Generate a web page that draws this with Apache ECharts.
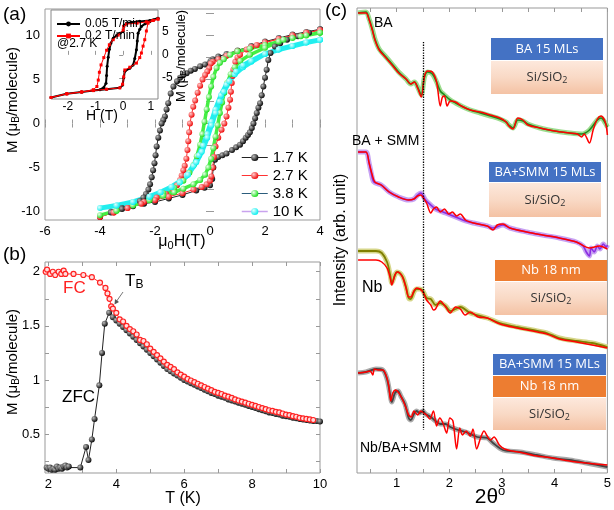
<!DOCTYPE html>
<html><head><meta charset="utf-8">
<script src="https://cdn.jsdelivr.net/npm/echarts@6/dist/echarts.min.js"></script>
<style>html,body{margin:0;padding:0;background:#fff}#c{width:614px;height:510px}</style>
</head><body><div id="c"></div>
<script>
// ---------------- DATA ----------------
// (a) main hysteresis loops  [H (T), M (muB/molecule)]
const loop17K = [[4,10.7],[3.5,10.4],[3,10.1],[2.5,9.7],[2,9.3],[1.5,8.8],[1,8.3],[0.6,7.9],[0.3,7.6],[0.1,7.3],[0.02,7.1],[-0.03,6.8],[-0.18,6.7],[-0.36,6.5],[-0.55,6.2],[-0.7,6.0],[-0.85,5.7],[-0.97,5.5],[-1.09,5.2],[-1.2,4.8],[-1.33,4.2],[-1.43,3.4],[-1.52,2.3],[-1.58,1.6],[-1.64,0.8],[-1.7,0.4],[-1.76,0.0],[-1.82,-0.8],[-1.88,-1.6],[-1.94,-2.6],[-1.98,-3.6],[-2.02,-4.5],[-2.07,-5.3],[-2.12,-6.1],[-2.18,-6.9],[-2.24,-7.5],[-2.33,-8.0],[-2.42,-8.4],[-2.55,-8.8],[-2.8,-9.2],[-3.2,-9.6],[-3.6,-10.0],[-4,-10.6],
  [-3.6,-10.1],[-3.2,-9.7],[-2.8,-9.4],[-2.4,-9.1],[-2,-8.9],[-1.5,-8.5],[-1,-8.1],[-0.5,-7.6],[-0.2,-7.3],[0,-7.0],[0.08,-6.3],[0.12,-5.0],[0.18,-4.1],[0.3,-3.8],[0.45,-3.6],[0.6,-3.4],[0.8,-3.0],[0.95,-2.7],[1.09,-2.4],[1.2,-2.0],[1.3,-1.6],[1.38,-1.3],[1.45,-1.0],[1.52,-0.5],[1.58,0],[1.64,0.6],[1.7,1.2],[1.76,1.8],[1.82,2.3],[1.88,3.2],[1.94,4.2],[2.0,5.2],[2.06,6.1],[2.12,7.2],[2.2,8.0],[2.36,8.75],[2.55,9.1],[2.8,9.5],[3.2,9.9],[3.6,10.3],[4,10.7]];
const loop27K = [[4,10.6],[3.5,10.3],[3,10.0],[2.5,9.6],[2,9.2],[1.5,8.7],[1,8.2],[0.6,7.7],[0.3,7.3],[0.1,7.0],[0.03,6.8],[-0.03,6.3],[-0.1,5.9],[-0.18,5.5],[-0.27,5.0],[-0.36,4.3],[-0.45,3.5],[-0.54,2.6],[-0.61,1.9],[-0.67,1.0],[-0.73,0.0],[-0.76,-1.0],[-0.79,-2.0],[-0.82,-3.0],[-0.86,-4.0],[-0.92,-4.8],[-0.97,-5.3],[-1.03,-5.9],[-1.09,-6.4],[-1.2,-7.0],[-1.33,-7.5],[-1.6,-8.0],[-1.94,-8.4],[-2.4,-8.9],[-3,-9.6],[-3.5,-10.1],[-4,-10.6],
  [-3.5,-10.1],[-3,-9.6],[-2.5,-9.1],[-2,-8.7],[-1.5,-8.3],[-1,-7.9],[-0.6,-7.5],[-0.3,-7.2],[-0.12,-6.9],[0,-6.5],[0.05,-6.0],[0.1,-5.0],[0.14,-3.8],[0.2,-2.6],[0.3,-1.6],[0.42,-0.7],[0.52,0.0],[0.6,0.8],[0.67,1.8],[0.73,2.7],[0.76,3.6],[0.79,4.6],[0.82,5.4],[0.85,6.1],[0.92,7.0],[1.0,7.5],[1.09,7.8],[1.33,8.4],[1.7,8.9],[2,9.2],[2.5,9.6],[3,10.0],[3.5,10.3],[4,10.6]];
const loop38K = [[4,10.3],[3.5,10.0],[3,9.7],[2.5,9.3],[2,8.9],[1.45,8.5],[1,8.2],[0.73,7.8],[0.5,7.3],[0.36,6.9],[0.24,6.3],[0.12,5.3],[0.04,4.2],[-0.04,3.0],[-0.12,1.6],[-0.2,0.2],[-0.28,-1.2],[-0.36,-2.4],[-0.48,-3.7],[-0.6,-4.7],[-0.75,-5.6],[-0.97,-6.5],[-1.3,-7.3],[-1.7,-7.9],[-2.2,-8.5],[-2.8,-9.2],[-3.4,-9.9],[-4,-10.4],
  [-3.4,-9.9],[-2.8,-9.3],[-2.2,-8.7],[-1.7,-8.2],[-1.3,-7.8],[-0.97,-7.4],[-0.6,-6.9],[-0.36,-6.4],[-0.18,-5.8],[-0.06,-5.0],[0.04,-4.0],[0.12,-2.8],[0.2,-1.5],[0.28,-0.2],[0.36,1.2],[0.44,2.4],[0.52,3.5],[0.62,4.6],[0.75,5.6],[0.9,6.4],[1.1,7.1],[1.45,7.8],[2,8.6],[2.67,9.5],[3.3,9.9],[4,10.3]];
const loop10K = [[4,9.5],[3.5,9.2],[3,8.8],[2.5,8.4],[2,7.9],[1.5,7.0],[1.2,6.4],[0.9,5.6],[0.6,4.4],[0.4,3.2],[0.2,1.6],[0.05,0.2],[-0.1,-1.2],[-0.25,-2.5],[-0.4,-3.6],[-0.6,-4.8],[-0.85,-5.9],[-1.1,-6.6],[-1.4,-7.2],[-1.8,-7.8],[-2.2,-8.3],[-2.8,-8.9],[-3.4,-9.3],[-4,-9.6],
  [-3.4,-9.3],[-2.8,-8.9],[-2.2,-8.3],[-1.8,-7.8],[-1.4,-7.2],[-1.1,-6.7],[-0.8,-5.8],[-0.5,-4.4],[-0.3,-3.2],[-0.1,-1.6],[0.05,-0.2],[0.2,1.2],[0.35,2.5],[0.5,3.6],[0.7,4.8],[0.95,5.9],[1.2,6.6],[1.5,7.1],[2,7.9],[2.5,8.4],[3,8.8],[3.5,9.2],[4,9.5]];
const tempNames = ['1.7 K','2.7 K','3.8 K','10 K'];
const aXTicks = [-6,-4,-2,0,2,4];
const aYTicks = [-10,-5,0,5,10];

// (a) inset: 2.7 K at two sweep rates
const insetSlow = [[1.26,8.0],[0.96,7.5],[0.6,7.3],[0.3,7.1],[0.12,6.9],[0.03,6.4],[0,5.1],[-0.12,4.7],[-0.24,4.2],[-0.36,3.6],[-0.44,2.6],[-0.5,1.2],[-0.54,-0.5],[-0.58,-2.5],[-0.6,-4.5],[-0.62,-6.2],[-0.7,-7.1],[-0.84,-7.6],[-1.08,-7.8],[-1.5,-8.1],[-2.04,-8.5],[-2.61,-9.3],
  [-2.04,-8.5],[-1.5,-8.1],[-1.08,-7.8],[-0.6,-7.5],[-0.12,-7.2],[-0.02,-6.6],[0.02,-5.0],[0.06,-3.6],[0.24,-2.9],[0.36,-2.2],[0.42,-0.8],[0.48,1.1],[0.51,3.0],[0.54,4.7],[0.6,5.6],[0.66,6.2],[0.8,6.8],[0.96,7.2],[1.1,7.6],[1.26,8.0]];
const insetFast = [[1.26,7.8],[1.08,7.5],[0.84,7.2],[0.5,6.9],[0.12,6.7],[0.02,6.2],[0,5.4],[-0.18,4.3],[-0.36,3.3],[-0.5,2.2],[-0.6,1.0],[-0.7,-0.6],[-0.8,-2.2],[-0.86,-3.8],[-0.9,-5.5],[-0.95,-6.9],[-1.08,-7.6],[-1.5,-8.1],[-2.04,-8.5],[-2.61,-9.3],
  [-2.04,-8.5],[-1.5,-8.1],[-1.08,-7.8],[-0.6,-7.5],[-0.12,-7.2],[-0.02,-6.4],[0.02,-4.8],[0.06,-3.3],[0.24,-2.7],[0.48,-1.8],[0.6,-0.6],[0.66,0.4],[0.72,1.9],[0.78,3.3],[0.84,5.2],[0.9,6.9],[1.08,7.5],[1.26,7.8]];
const insetNames = ['0.05 T/min','0.2 T/min'];

// (b) ZFC / FC  [T (K), M]
const zfc = [[1.95,0.19],[2.0,0.18],[2.05,0.19],[2.1,0.17],[2.15,0.18],[2.2,0.17],[2.25,0.2],[2.3,0.18],[2.35,0.19],[2.4,0.18],[2.45,0.2],[2.5,0.21],[2.55,0.19],[2.6,0.2],[2.94,0.19],[3.11,0.38],[3.18,0.26],[3.28,0.45],[3.36,0.64],[3.5,0.95],[3.58,1.25],[3.66,1.52],[3.79,1.62],[3.9,1.58],[4.0,1.55],[4.1,1.52],[4.2,1.49],[4.3,1.46],[4.4,1.43],[4.5,1.40],[4.6,1.37],[4.7,1.34],[4.8,1.31],[4.9,1.28],[5.0,1.25],[5.1,1.22],[5.2,1.19],[5.3,1.16],[5.4,1.13],[5.5,1.10],[5.6,1.08],[5.7,1.06],[5.8,1.04],[5.9,1.02],[6.0,1.00],[6.1,0.985],[6.2,0.97],[6.3,0.955],[6.4,0.94],[6.5,0.925],[6.6,0.91],[6.7,0.895],[6.8,0.88],[6.9,0.87],[7.0,0.855],[7.1,0.845],[7.2,0.835],[7.3,0.82],[7.4,0.81],[7.5,0.80],[7.6,0.79],[7.7,0.78],[7.8,0.77],[7.9,0.76],[8.0,0.75],[8.1,0.74],[8.2,0.73],[8.3,0.72],[8.4,0.71],[8.5,0.70],[8.6,0.695],[8.7,0.685],[8.8,0.68],[8.9,0.67],[9.0,0.665],[9.1,0.66],[9.2,0.65],[9.3,0.645],[9.4,0.64],[9.5,0.635],[9.6,0.63],[9.7,0.625],[9.8,0.62],[9.9,0.62],[10.0,0.615]];
const fc = [[1.92,2.0],[1.96,2.02],[2.05,1.98],[2.13,2.0],[2.2,1.97],[2.3,2.0],[2.38,1.98],[2.45,2.01],[2.5,1.98],[2.74,1.98],[3.03,1.97],[3.28,1.95],[3.52,1.9],[3.68,1.85],[3.74,1.8],[3.8,1.75],[3.85,1.68],[3.9,1.66],[4.0,1.62],[4.1,1.56],[4.2,1.54],[4.3,1.50],[4.4,1.47],[4.5,1.45],[4.6,1.42],[4.7,1.37],[4.8,1.36],[4.9,1.33],[5.0,1.29],[5.1,1.26],[5.2,1.23],[5.3,1.20],[5.4,1.17],[5.5,1.14],[5.6,1.12],[5.7,1.10],[5.8,1.07],[5.9,1.05],[6.0,1.03],[6.1,1.01],[6.2,0.995],[6.3,0.98],[6.4,0.965],[6.5,0.95],[6.6,0.935],[6.7,0.92],[6.8,0.905],[6.9,0.89],[7.0,0.88],[7.1,0.87],[7.2,0.855],[7.3,0.845],[7.4,0.835],[7.5,0.82],[7.6,0.81],[7.7,0.80],[7.8,0.79],[7.9,0.78],[8.0,0.77],[8.1,0.76],[8.2,0.75],[8.3,0.74],[8.4,0.73],[8.5,0.72],[8.6,0.715],[8.7,0.705],[8.8,0.70],[8.9,0.69],[9.0,0.68],[9.1,0.675],[9.2,0.665],[9.3,0.66],[9.4,0.65],[9.5,0.645],[9.6,0.64],[9.7,0.635],[9.8,0.63]];
const bXLabels = [2,4,6,8,10];
const bYLabels = [0.5,1.0,1.5,2.0];

// (c) XRR, stacked [2theta (deg), intensity (arb.)]
const baMeas = [[0.27,460],[0.42,461],[0.48,454],[0.54,444],[0.59,434],[0.67,424],[0.8,416],[0.93,408],[1.04,401],[1.18,394],[1.27,389],[1.34,391],[1.4,386],[1.47,378],[1.53,396],[1.59,401],[1.68,399],[1.76,391],[1.83,382],[1.91,378],[2.02,373],[2.12,370],[2.23,367],[2.4,363],[2.59,360],[2.78,357],[2.96,354],[3.08,351],[3.13,348],[3.21,345],[3.3,353],[3.4,352],[3.49,349],[3.72,345],[4.0,342],[4.28,340],[4.51,339],[4.66,343],[4.81,353],[4.88,355],[4.96,350],[5.0,346]];
const baFit = [[0.27,460],[0.42,460],[0.48,453],[0.54,443],[0.59,433],[0.67,423],[0.8,415],[0.93,407],[1.04,400],[1.18,394],[1.27,389],[1.34,391],[1.4,385],[1.47,376],[1.53,397],[1.59,402],[1.68,401],[1.76,391],[1.83,367],[1.87,376],[1.91,377],[1.96,367],[2.02,372],[2.12,371],[2.23,367],[2.4,363],[2.59,361],[2.78,358],[2.96,355],[3.08,351],[3.13,347],[3.21,344],[3.3,355],[3.4,353],[3.49,348],[3.72,345],[4.0,342],[4.28,340],[4.43,339],[4.51,336],[4.56,339],[4.66,330],[4.73,343],[4.81,354],[4.88,357],[4.96,351],[5.0,338]];
const bsMeas = [[0.27,321],[0.42,321],[0.48,310],[0.52,300],[0.57,291],[0.71,288],[0.86,281],[1.04,276],[1.23,273],[1.33,274],[1.4,278],[1.46,280],[1.55,273],[1.65,268],[1.74,264],[1.93,260],[2.12,256],[2.31,252],[2.46,250],[2.72,247],[2.83,245],[3.02,248],[3.15,245],[3.47,241],[3.77,238],[4.09,235],[4.41,231],[4.54,227],[4.6,221],[4.66,217],[4.69,225],[4.75,221],[4.81,227],[4.86,224],[4.92,229],[4.98,226],[5.0,228]];
const bsFit = [[0.27,321],[0.42,321],[0.48,310],[0.54,298],[0.59,291],[0.71,288],[0.86,281],[1.04,276],[1.23,273],[1.33,274],[1.4,277],[1.46,278],[1.52,274],[1.57,270],[1.65,260],[1.7,264],[1.76,266],[1.83,261],[1.91,264],[1.99,259],[2.06,261],[2.14,257],[2.21,259],[2.31,253],[2.46,250],[2.72,247],[2.83,243],[2.91,248],[3.02,249],[3.15,245],[3.47,241],[3.77,238],[4.09,235],[4.41,231],[4.66,225],[4.85,227],[5.0,224]];
const nbMeas = [[0.27,222],[0.61,222],[0.72,220],[0.82,211],[0.88,198],[0.91,190],[0.97,198],[1.01,201],[1.06,200],[1.12,196],[1.18,186],[1.23,175],[1.27,174],[1.33,181],[1.38,184],[1.44,184],[1.5,182],[1.57,175],[1.65,174],[1.74,168],[1.83,170],[1.93,167],[2.02,162],[2.12,164],[2.21,166],[2.4,160],[2.72,155],[2.96,150],[3.28,146],[3.58,143],[3.85,140],[4.09,135],[4.41,132],[4.71,130],[5.0,126]];
const nbFit = [[0.27,213],[0.61,213],[0.72,211],[0.82,205],[0.88,195],[0.91,188],[0.97,198],[1.01,201],[1.06,200],[1.12,195],[1.18,185],[1.23,176],[1.27,176],[1.33,182],[1.38,185],[1.44,184],[1.5,181],[1.57,173],[1.65,168],[1.7,163],[1.74,164],[1.83,172],[1.93,166],[2.02,160],[2.12,166],[2.21,164],[2.3,158],[2.4,161],[2.55,156],[2.72,155],[2.96,149],[3.28,145],[3.58,142],[3.85,139],[4.09,134],[4.41,131],[4.71,128],[5.0,125]];
const nbbsMeas = [[0.27,100],[0.42,101],[0.61,104],[0.74,103],[0.82,94],[0.88,78],[0.91,71],[0.97,80],[1.03,82],[1.08,77],[1.16,69],[1.23,55],[1.27,53],[1.33,59],[1.38,62],[1.44,60],[1.5,62],[1.55,59],[1.65,56],[1.74,52],[1.83,49],[1.93,49],[2.02,46],[2.17,43],[2.31,41],[2.53,36],[2.72,35],[2.83,30],[3.02,23],[3.34,21],[3.66,18],[3.96,15],[4.28,13],[4.6,10],[5.0,6]];
const nbbsFit = [[0.27,100],[0.42,101],[0.5,102],[0.55,98],[0.58,104],[0.65,103],[0.74,103],[0.8,98],[0.85,88],[0.89,72],[0.93,80],[0.98,83],[1.03,81],[1.1,75],[1.18,65],[1.23,58],[1.28,56],[1.33,62],[1.4,58],[1.46,62],[1.52,60],[1.57,58],[1.63,54],[1.7,62],[1.76,47],[1.82,55],[1.88,50],[1.95,40],[2.01,55],[2.07,52],[2.14,24],[2.2,45],[2.25,38],[2.32,42],[2.4,37],[2.45,44],[2.52,24],[2.6,36],[2.66,42],[2.72,37],[2.78,33],[2.85,36],[2.95,28],[3.05,24],[3.2,22],[3.4,20],[3.66,17],[3.96,15],[4.28,12],[4.6,10],[5.0,8]];
const cXLabels = [1,2,3,4,5];
const dottedTheta = 1.5;

// ---------------- STYLE ----------------
const FONT = '"Liberation Sans", Arial, Helvetica, sans-serif';
const AX = '#999';
function ball(c0, c1) { return {type:'radial', x:0.35, y:0.35, r:0.7, colorStops:[{offset:0,color:c0},{offset:1,color:c1}]}; }
function rng(a,b,s){const r=[];for(let v=a;v<=b+1e-9;v+=s)r.push(+v.toFixed(4));return r;}
function xAx(grid,min,max,labels,ticks,pos,show,fs,margin,z){
  return {gridIndex:grid,type:'value',min:min,max:max,position:pos,z:z||0,
    axisLine:{show:false},splitLine:{show:false},
    axisTick:{show:true,inside:true,length:4,customValues:ticks,lineStyle:{color:AX}},
    axisLabel:{show:show,customValues:labels,margin:margin,fontSize:fs,color:'#000',fontFamily:FONT}};
}
const yAx = xAx;

const chart = echarts.init(document.getElementById('c'), null, {renderer:'canvas'});

function rt(x,y,text,fs,opts){
  opts=opts||{};
  return {type:'text',x:x,y:y,rotation:opts.rot||0,z:opts.z||20,
    style:{text:text,fill:opts.color||'#000',font:(opts.weight||'')+' '+fs+'px '+(opts.family||FONT),
      textAlign:opts.align||'left',textVerticalAlign:'middle',
      rich:{s:{fontSize:Math.round(fs*0.68),fontFamily:opts.family||FONT,fill:opts.color||'#000',padding:[Math.round(fs*0.45),0,0,0]},
            u:{fontSize:Math.round(fs*0.62),fontFamily:opts.family||FONT,fill:opts.color||'#000',padding:[0,0,Math.round(fs*0.55),0]},
            n:{fontSize:fs,fontFamily:opts.family||FONT,fill:opts.color||'#000'}}}};
}
function layerBox(x,y,w,h,fill,text,color){
  return [{type:'rect',shape:{x:x,y:y,width:w,height:h},style:{fill:fill},z:15},
          rt(x+w/2,y+h/2,text,13,{align:'center',color:color,family:'"Open Sans", "Noto Sans", sans-serif',z:16})];
}
const peach = new echarts.graphic.LinearGradient(0,0,0,1,[{offset:0,color:'#fde8dc'},{offset:0.5,color:'#f9d9c5'},{offset:1,color:'#f4c2a4'}]);
const BLUE='#4472c4', ORANGE='#ed7d31';

const option = {
  animation:false,
  backgroundColor:'#fff',
  grid:[
    {left:45,top:9,width:275,height:211,show:true,borderColor:AX,borderWidth:1,backgroundColor:'transparent'},
    {left:51,top:10,width:107,height:89,show:true,borderColor:'#888',borderWidth:1,backgroundColor:'#fff',z:4},
    {left:45,top:262,width:275,height:211,show:true,borderColor:AX,borderWidth:1,backgroundColor:'transparent'},
    {left:357,top:8,width:252,height:465,show:true,borderColor:AX,borderWidth:1,backgroundColor:'transparent'}
  ],
  xAxis:[
    xAx(0,-6,4,aXTicks,rng(-6,4,1),'bottom',true,13,5),
    xAx(0,-6,4,aXTicks,rng(-6,4,1),'top',false,13,5),
    xAx(1,-2.61,1.26,[-2,-1,0,1],[-2,-1,0,1],'bottom',true,12,2,6),
    xAx(2,1.9,10,bXLabels,rng(2,10,1),'bottom',true,13,5),
    xAx(2,1.9,10,bXLabels,rng(2,10,1),'top',false,13,5),
    xAx(3,0.25,5,cXLabels,rng(0.5,5,0.5),'bottom',true,13,4),
    xAx(3,0.25,5,cXLabels,rng(0.5,5,0.5),'top',false,13,4)
  ],
  yAxis:[
    yAx(0,-10.95,13,aYTicks,rng(-10,12.5,2.5),'left',true,13,5),
    yAx(0,-10.95,13,aYTicks,rng(-10,12.5,2.5),'right',false,13,5),
    yAx(1,-9.63,9.78,[-5,0,5],[-5,0,5],'right',true,12,4,6),
    yAx(2,0.14,2.09,bYLabels,rng(0.25,2,0.25),'left',true,13,5),
    yAx(2,0.14,2.09,bYLabels,rng(0.25,2,0.25),'right',false,13,5),
    {gridIndex:3,type:'value',min:0,max:465,axisLine:{show:false},axisTick:{show:false},axisLabel:{show:false},splitLine:{show:false}}
  ],
  legend:[
    {data:[{name:'1.7 K',lineStyle:{color:'#222',width:1}},{name:'2.7 K',lineStyle:{color:'#f33',width:1}},{name:'3.8 K',lineStyle:{color:'#2b5d7c',width:1}},{name:'10 K',lineStyle:{color:'#c9a3ee',width:1.5}}],
     orient:'vertical',left:236,top:145,itemWidth:26,itemHeight:9,itemGap:3,selectedMode:false,
     textStyle:{fontSize:15,fontFamily:FONT,color:'#000'}},
    {data:[{name:insetNames[0]},{name:insetNames[1]}],orient:'vertical',left:51,top:13,itemWidth:23,itemHeight:6,itemGap:0,selectedMode:false,z:10,
     textStyle:{fontSize:12,lineHeight:12,fontFamily:FONT,color:'#000'}}
  ],
  series:[
    {name:tempNames[0],type:'line',xAxisIndex:0,yAxisIndex:0,data:loop17K,symbol:'circle',symbolSize:6,
     lineStyle:{color:'#222',width:1},itemStyle:{color:ball('#bbb','#000')}},
    {name:tempNames[1],type:'line',xAxisIndex:0,yAxisIndex:0,data:loop27K,symbol:'circle',symbolSize:6,
     lineStyle:{color:'#f33',width:1},itemStyle:{color:ball('#fcc','#e00')}},
    {name:tempNames[2],type:'line',xAxisIndex:0,yAxisIndex:0,data:loop38K,symbol:'circle',symbolSize:6,
     lineStyle:{color:'#44ee44',width:3.5},itemStyle:{color:ball('#efe','#1d1')}},
    {name:tempNames[3],type:'line',xAxisIndex:0,yAxisIndex:0,data:loop10K,symbol:'circle',symbolSize:6,
     lineStyle:{color:'#22eeee',width:5},itemStyle:{color:ball('#dff','#0ee')}},
    {name:insetNames[0],type:'line',xAxisIndex:2,yAxisIndex:2,data:insetSlow,symbol:'circle',symbolSize:3,z:6,
     lineStyle:{color:'#000',width:2},itemStyle:{color:'#000'}},
    {name:insetNames[1],type:'line',xAxisIndex:2,yAxisIndex:2,data:insetFast,symbol:'rect',symbolSize:3,z:7,
     lineStyle:{color:'#f00',width:1},itemStyle:{color:'#f00'}},
    {name:'ZFC',type:'line',xAxisIndex:3,yAxisIndex:3,data:zfc,symbol:'circle',symbolSize:6,
     lineStyle:{color:'#222',width:1},itemStyle:{color:ball('#bbb','#000')}},
    {name:'FC',type:'line',xAxisIndex:3,yAxisIndex:3,data:fc,symbol:'circle',symbolSize:5,
     lineStyle:{color:'#f33',width:1},itemStyle:{color:'#fdd',borderColor:'#f22',borderWidth:1.2}},
    // (c)
    {name:'baMeasHalo',type:'line',xAxisIndex:5,yAxisIndex:5,data:baMeas,showSymbol:false,smooth:0.3,lineStyle:{color:'#9ddc8f',width:5}},
    {name:'baMeas',type:'line',xAxisIndex:5,yAxisIndex:5,data:baMeas,showSymbol:false,smooth:0.3,lineStyle:{color:'#1e8a1e',width:1.6}},
    {name:'baFit',type:'line',xAxisIndex:5,yAxisIndex:5,data:baFit,showSymbol:false,smooth:0.3,lineStyle:{color:'#ff0000',width:1.5},
     markLine:{silent:true,symbol:'none',label:{show:false},lineStyle:{type:'dotted',color:'#000',width:1.3},
       data:[[{coord:[dottedTheta,431]},{coord:[dottedTheta,43]}]]}},
    {name:'bsMeasHalo',type:'line',xAxisIndex:5,yAxisIndex:5,data:bsMeas,showSymbol:false,smooth:0.3,lineStyle:{color:'#c7a2f2',width:5}},
    {name:'bsMeas',type:'line',xAxisIndex:5,yAxisIndex:5,data:bsMeas,showSymbol:false,smooth:0.3,lineStyle:{color:'#8a2be2',width:1.6}},
    {name:'bsFit',type:'line',xAxisIndex:5,yAxisIndex:5,data:bsFit,showSymbol:false,smooth:0.3,lineStyle:{color:'#ff0000',width:1.5}},
    {name:'nbMeasHalo',type:'line',xAxisIndex:5,yAxisIndex:5,data:nbMeas,showSymbol:false,smooth:0.3,lineStyle:{color:'#d6d68a',width:5}},
    {name:'nbMeas',type:'line',xAxisIndex:5,yAxisIndex:5,data:nbMeas,showSymbol:false,smooth:0.3,lineStyle:{color:'#7f7f00',width:1.8}},
    {name:'nbFit',type:'line',xAxisIndex:5,yAxisIndex:5,data:nbFit,showSymbol:false,smooth:0.3,lineStyle:{color:'#ff0000',width:1.5}},
    {name:'nbbsMeasHalo',type:'line',xAxisIndex:5,yAxisIndex:5,data:nbbsMeas,showSymbol:false,smooth:0.3,lineStyle:{color:'#aaaaaa',width:5}},
    {name:'nbbsMeas',type:'line',xAxisIndex:5,yAxisIndex:5,data:nbbsMeas,showSymbol:false,smooth:0.3,lineStyle:{color:'#444',width:1.8}},
    {name:'nbbsFit',type:'line',xAxisIndex:5,yAxisIndex:5,data:nbbsFit,showSymbol:false,smooth:0.3,lineStyle:{color:'#ff0000',width:1.5}}
  ],
  graphic:[].concat(
    [rt(3,15,'(a)',19), rt(3,255,'(b)',19), rt(325,11,'(c)',19)],
    [rt(13,100,'M (μ{s|B}/molecule)',15,{align:'center',rot:Math.PI/2}),
     rt(13,362,'M (μ{s|B}/molecule)',15,{align:'center',rot:Math.PI/2}),
     rt(181,56,'M (μ{s|B}/molecule)',13,{align:'center',rot:Math.PI/2}),
     rt(341,240,'Intensity (arb. unit)',16,{align:'center',rot:Math.PI/2}),
     rt(182,242,'μ{s|0}H(T)',16,{align:'center'}),
     rt(102,116,'H (T)',14,{align:'center'}),
     rt(57,44,'@2.7 K',12),
     rt(183,499,'T (K)',16,{align:'center'}),
     rt(490,497,'2θ{u|o}',21,{align:'center'}),
     rt(63,288,'FC',17,{color:'#f22'}),
     rt(62,397,'ZFC',17),
     rt(125,281,'T{s|B}',17),
     rt(374,23,'BA',14),
     rt(352,141,'BA + SMM',14),
     rt(362,288,'Nb',16),
     rt(360,448,'Nb/BA+SMM',14),
     {type:'line',shape:{x1:123,y1:292,x2:116,y2:302},style:{stroke:'#555',lineWidth:0.8},z:20},
     {type:'polygon',shape:{points:[[114.5,304.5],[115,299],[119,302]]},style:{fill:'#555'},z:20}
    ],
    layerBox(491,38,112,22,BLUE,'BA 15 MLs','#fff'),
    layerBox(491,61,112,33,peach,'Si/SiO{s|2}','#333'),
    layerBox(489,162,112,20,BLUE,'BA+SMM 15 MLs','#fff'),
    layerBox(489,183,112,34,peach,'Si/SiO{s|2}','#333'),
    layerBox(495,260,112,21,ORANGE,'Nb 18 nm','#fff'),
    layerBox(495,282,112,33,peach,'Si/SiO{s|2}','#333'),
    layerBox(493,354,113,21,BLUE,'BA+SMM 15 MLs','#fff'),
    layerBox(493,376,113,21,ORANGE,'Nb 18 nm','#fff'),
    layerBox(493,398,113,32,peach,'Si/SiO{s|2}','#333')
  )
};
chart.setOption(option);
</script></body></html>
